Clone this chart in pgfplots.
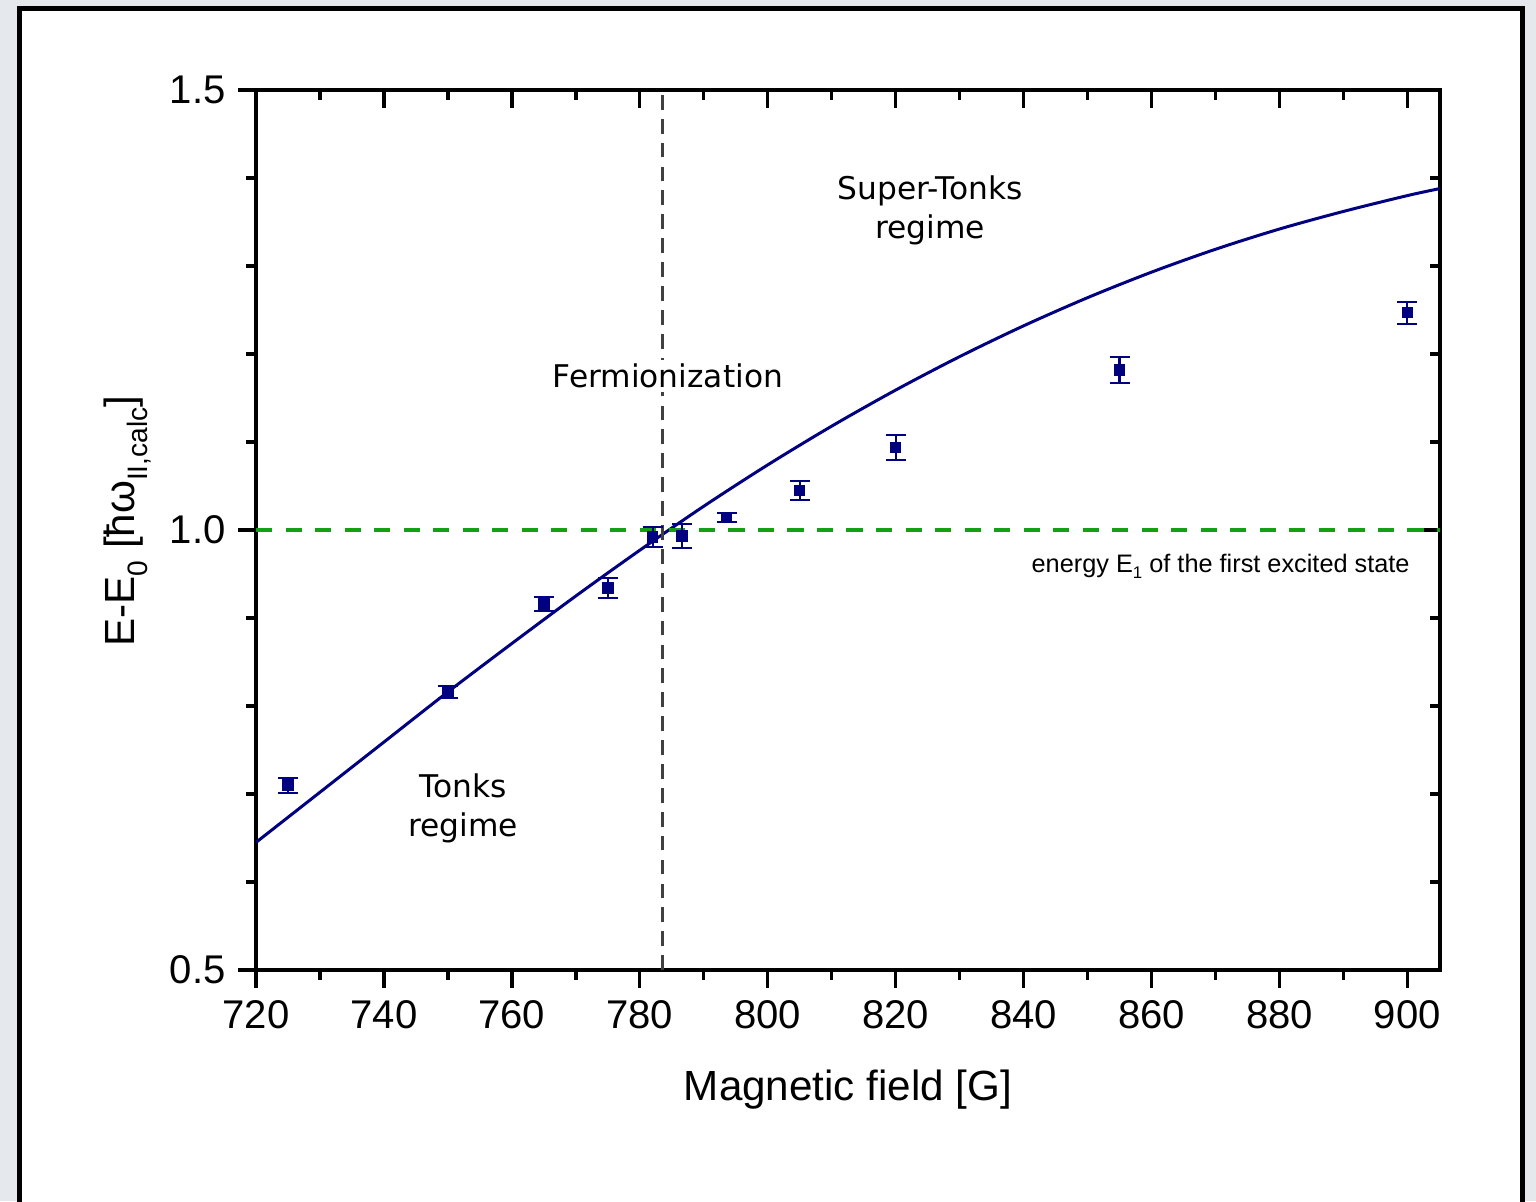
\documentclass[border=0pt]{standalone}
\usepackage{fontspec}
\setmainfont{Liberation Sans}
\newfontfamily\dejavu{DejaVu Sans}
\usepackage{pgfplots}
\pgfplotsset{compat=1.18}
\definecolor{navy}{RGB}{0,0,128}
\definecolor{fgreen}{RGB}{20,160,20}
\definecolor{bggray}{RGB}{229,232,236}
\definecolor{dgray}{RGB}{64,64,64}

\pgfplotstableread{
x     y      e
725   0.710  0.0085
750   0.816  0.007
765   0.916  0.008
775   0.934  0.011
782   0.992  0.011
786.6 0.993  0.0136
793.6 1.014  0.005
805   1.045  0.011
820   1.094  0.014
855   1.182  0.015
900   1.247  0.0125
}\datatable

\begin{document}
\begin{tikzpicture}
\useasboundingbox (0,0) rectangle (15.36,12.01);
\clip (0,0) rectangle (15.36,12.01);
\fill[bggray] (0,0) rectangle (15.36,12.01);
\filldraw[fill=white, draw=black, line width=0.05cm] (0.195,-1) rectangle (15.22,11.925);

\pgfplotsset{
  common/.style={
    at={(2.56cm,2.31cm)}, anchor=south west, scale only axis,
    width=11.84cm, height=8.80cm,
    xmin=720, xmax=905.1, ymin=0.5, ymax=1.5,
    xtick={720,740,...,900}, minor x tick num=1,
    ytick={0.5,1.0,1.5}, minor y tick num=4,
    major tick length=0.18cm, minor tick length=0.1cm,
    axis line style={line width=0.95pt},
    every tick/.append style={black, line width=0.95pt},
  }
}

\begin{axis}[common,
  xtick pos=right, ytick pos=right, tick align=inside,
  xticklabels={}, yticklabels={},
]
\end{axis}

\begin{axis}[common,
  xtick pos=left, ytick pos=left, tick align=outside,
  /pgf/number format/assume math mode=true,
  ticklabel style={font=\fontsize{11.4}{13}\selectfont},
  yticklabel style={/pgf/number format/.cd, fixed, fixed zerofill, precision=1},
  xticklabel style={/pgf/number format/.cd, 1000 sep={}},
  xlabel={Magnetic field [G]},
  xlabel style={font=\fontsize{12}{14}\selectfont, at={(axis description cs:0.5,0)}, anchor=base, yshift=-1.31cm},
  ylabel={E-E\raisebox{-0.55ex}{\fontsize{8}{9}\selectfont 0} [ħω\raisebox{-0.55ex}{\fontsize{8}{9}\selectfont II,calc}]},
  ylabel style={font=\fontsize{12}{14}\selectfont, at={(axis description cs:0,0.51)}, anchor=base, yshift=1.21cm},
  clip=true,
]
\addplot[navy, line width=0.85pt, smooth] coordinates {
(720,0.645) (730,0.702) (740,0.759) (750,0.816) (760,0.871) (770,0.925)
(780,0.977) (790,1.027) (800,1.074) (810,1.118) (820,1.159) (830,1.197)
(840,1.232) (850,1.264) (860,1.293) (870,1.319) (880,1.342) (890,1.362)
(900,1.380) (905.1,1.388)};
\addplot[fgreen, line width=0.9pt, dash pattern=on 4.6pt off 3.8pt] coordinates {(720,1.0) (905.1,1.0)};
\addplot[dgray, line width=0.85pt, dash pattern=on 4.2pt off 2.6pt] coordinates {(783.5,0.5) (783.5,1.5)};
\addplot[navy, only marks, mark=square*, mark size=0.05cm,
  error bars/.cd, y dir=both, y explicit,
  error bar style={line width=0.6pt, navy},
  error mark options={rotate=90, mark size=0.1cm, line width=0.6pt, navy}]
  table[x=x, y=y, y error=e] {\datatable};
\node[font=\dejavu\fontsize{8.9}{11.1}\selectfont, align=center] at (axis cs:825.4,1.363) {Super-Tonks\\regime};
\node[font=\dejavu\fontsize{8.9}{11.1}\selectfont, fill=white, inner sep=1pt] at (axis cs:784.4,1.175) {Fermionization};
\node[font=\dejavu\fontsize{8.9}{11.1}\selectfont, align=center] at (axis cs:752.4,0.684) {Tonks\\regime};
\node[font=\fontsize{7.2}{9}\selectfont] at (axis cs:870.8,0.959) {energy E\raisebox{-0.45ex}{\fontsize{4.8}{5}\selectfont 1} of the first excited state};
\end{axis}
\end{tikzpicture}
\end{document}
